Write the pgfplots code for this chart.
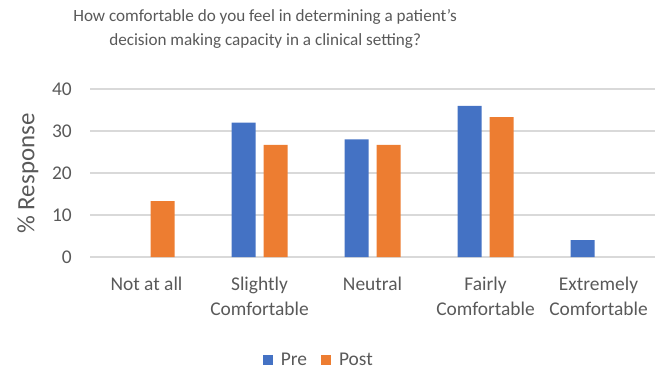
\documentclass[border=0pt]{standalone}
\usepackage{pgfplots}
\pgfplotsset{compat=1.18}
\usepackage{fontspec}
\setmainfont{Carlito}
\definecolor{preblue}{HTML}{4472C4}
\definecolor{postorange}{HTML}{ED7D31}
\definecolor{gridgray}{HTML}{D9D9D9}
\definecolor{txt}{HTML}{595959}
\begin{document}
\begin{tikzpicture}[x=1bp,y=1bp]
\useasboundingbox (0,0) rectangle (658,372);
\begin{axis}[
  at={(90bp,115bp)}, anchor=south west,
  scale only axis, width=565bp, height=168bp,
  xmin=-0.5, xmax=4.5, ymin=0, ymax=40,
  ybar=8bp, bar width=24bp,
  xtick={0,1,2,3,4},
  xticklabels={Not at all, Slightly\\Comfortable, Neutral, Fairly\\Comfortable, Extremely\\Comfortable},
  ytick={0,10,20,30,40},
  ymajorgrids, grid style={gridgray, line width=1.2bp},
  axis line style={draw=none}, tick style={draw=none},
  /pgf/number format/assume math mode=true,
  xticklabel style={align=center, anchor=north, inner sep=0pt, yshift=-16bp, text=txt, font=\fontsize{19.5}{25}\selectfont},
  yticklabel style={anchor=east, inner sep=0pt, xshift=-18bp, text=txt, font=\fontsize{19.5}{22}\selectfont},
  ylabel={\% Response},
  ylabel style={at={(axis description cs:-0.11,0.497)}, anchor=center, text=txt, font=\fontsize{25}{28}\selectfont},
  title={How comfortable do you feel in determining a patient’s\\decision making capacity in a clinical setting?},
  title style={at={(axis description cs:0.31,1.322)}, anchor=center, align=center, text=txt, font=\fontsize{17.2}{24.5}\selectfont},
  legend columns=2,
  legend style={at={(axis description cs:0.405,-0.613)}, anchor=center, draw=none, fill=none, text=txt, font=\fontsize{19.5}{22}\selectfont, column sep=6bp, /tikz/every even column/.append style={column sep=12bp}},
  legend image code/.code={\fill[#1] (0bp,-5bp) rectangle (10bp,5bp);},
]
\addplot[fill=preblue, draw=none] coordinates {(1,32) (2,28) (3,36) (4,4)};
\addplot[fill=postorange, draw=none] coordinates {(0,13.3) (1,26.7) (2,26.7) (3,33.3)};
\legend{Pre, Post}
\end{axis}
\end{tikzpicture}
\end{document}
